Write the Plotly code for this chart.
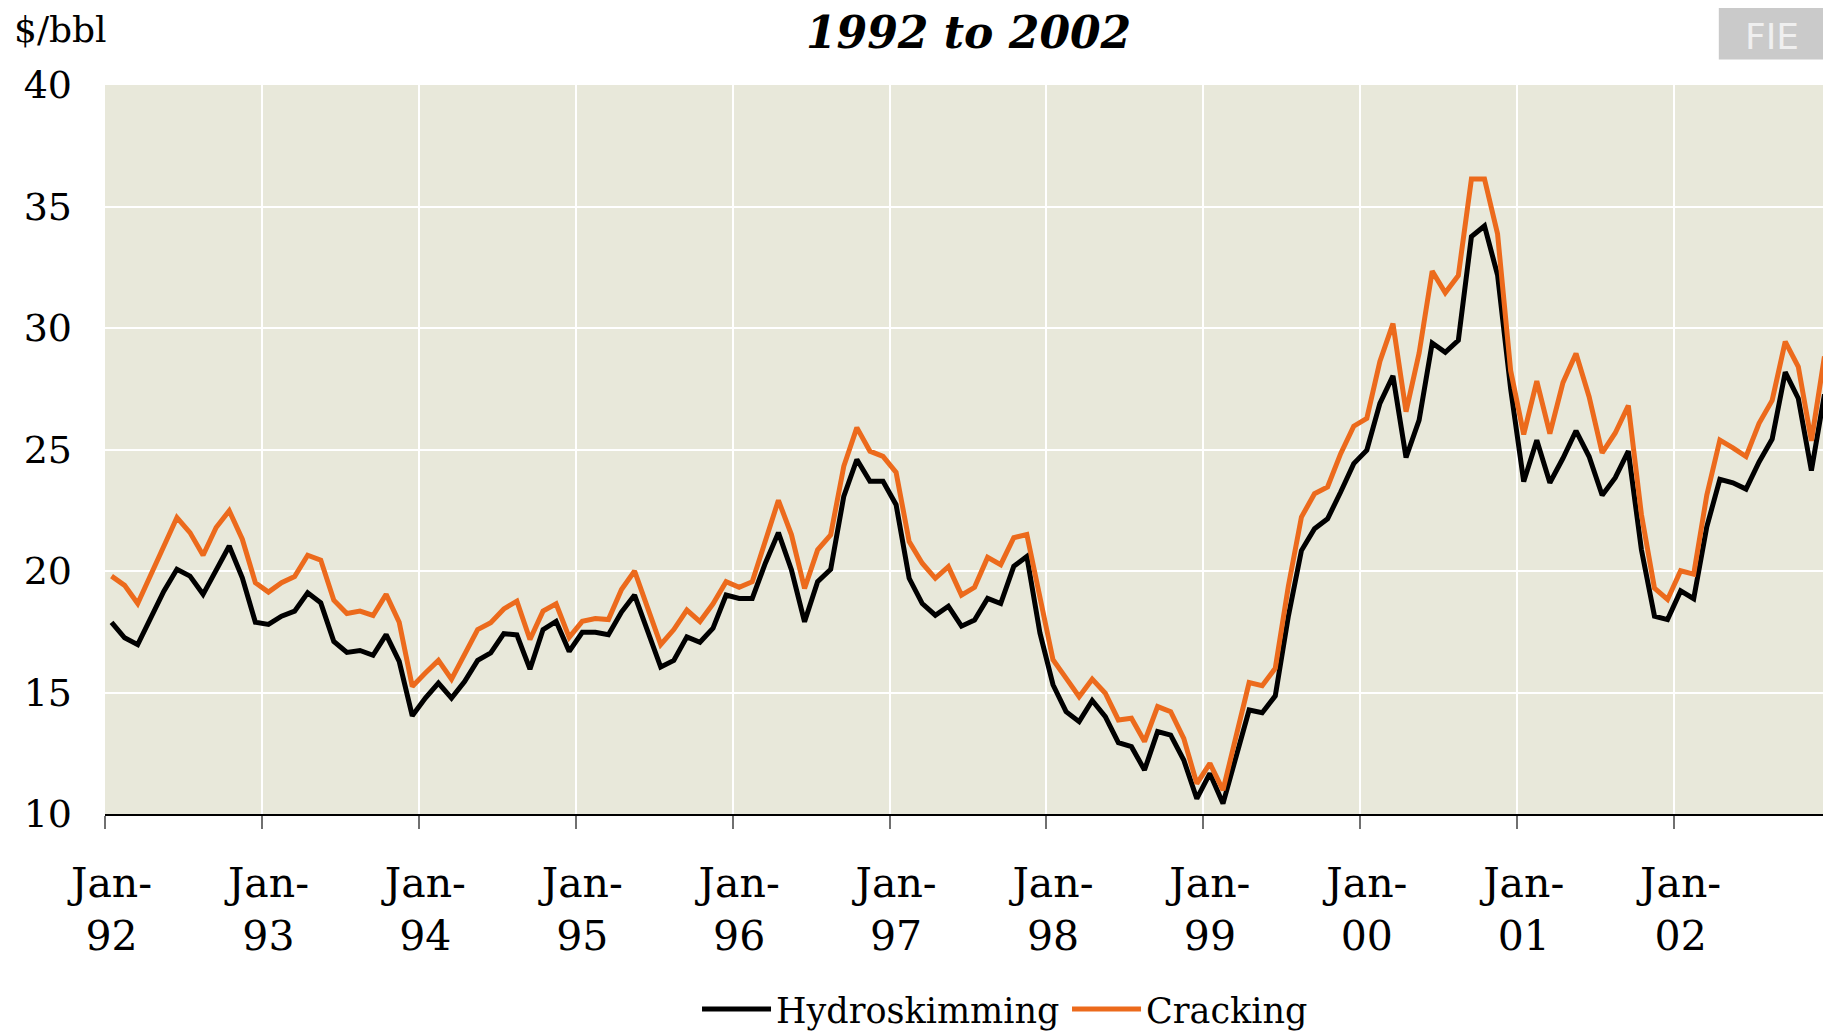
import plotly.graph_objects as go

months = list(range(132))  # Jan-92 .. Dec-02, monthly index

hydroskimming = [
    17.89, 17.25, 16.97, 18.07, 19.17, 20.07, 19.79, 19.04, 20.07, 21.03, 19.72, 17.89,
    17.80, 18.14, 18.35, 19.10, 18.69, 17.10, 16.65, 16.73, 16.53, 17.38, 16.28, 14.04,
    14.77, 15.39, 14.77, 15.45, 16.32, 16.63, 17.42, 17.37, 15.96, 17.59, 17.93, 16.69,
    17.48, 17.48, 17.38, 18.31, 19.01, 17.52, 16.05, 16.32, 17.29, 17.07, 17.65, 19.01,
    18.87, 18.87, 20.32, 21.58, 20.04, 17.91, 19.56, 20.07, 23.07, 24.59, 23.69, 23.69,
    22.73, 19.70, 18.66, 18.18, 18.55, 17.73, 17.98, 18.87, 18.66, 20.19, 20.60, 17.45,
    15.32, 14.21, 13.80, 14.67, 14.01, 12.94, 12.77, 11.81, 13.39, 13.25, 12.22, 10.63,
    11.67, 10.43, 12.29, 14.28, 14.17, 14.86, 18.14, 20.84, 21.74, 22.15, 23.25, 24.42,
    24.97, 26.90, 28.03, 24.67, 26.21, 29.38, 29.00, 29.49, 33.76, 34.20, 32.18, 27.50,
    23.68, 25.38, 23.63, 24.64, 25.77, 24.71, 23.12, 23.84, 24.93, 20.88, 18.14, 18.00,
    19.18, 18.86, 21.82, 23.77, 23.63, 23.37, 24.49, 25.43, 28.18, 27.10, 24.13, 27.27,
]

cracking = [
    19.79, 19.41, 18.66, 19.83, 21.00, 22.20, 21.58, 20.65, 21.79, 22.48, 21.31, 19.52,
    19.13, 19.52, 19.77, 20.65, 20.45, 18.80, 18.25, 18.35, 18.17, 19.04, 17.89, 15.25,
    15.80, 16.32, 15.55, 16.56, 17.59, 17.87, 18.44, 18.76, 17.18, 18.35, 18.65, 17.27,
    17.93, 18.04, 18.00, 19.24, 20.00, 18.48, 16.97, 17.59, 18.39, 17.92, 18.65, 19.56,
    19.33, 19.56, 21.21, 22.91, 21.49, 19.28, 20.87, 21.49, 24.31, 25.90, 24.93, 24.72,
    24.06, 21.21, 20.32, 19.70, 20.18, 19.01, 19.33, 20.56, 20.26, 21.37, 21.50, 18.83,
    16.35, 15.59, 14.83, 15.55, 14.97, 13.87, 13.94, 12.98, 14.42, 14.21, 13.11, 11.25,
    12.08, 10.98, 13.18, 15.41, 15.28, 16.00, 19.38, 22.22, 23.18, 23.46, 24.83, 25.96,
    26.28, 28.62, 30.18, 26.56, 28.97, 32.34, 31.45, 32.16, 36.13, 36.13, 33.87, 28.25,
    25.62, 27.81, 25.65, 27.75, 28.95, 27.17, 24.86, 25.68, 26.81, 22.33, 19.29, 18.83,
    20.01, 19.87, 23.12, 25.39, 25.07, 24.71, 26.08, 27.02, 29.44, 28.40, 25.36, 28.83,
]

year_labels = ["92", "93", "94", "95", "96", "97", "98", "99", "00", "01", "02"]
label_positions = [12 * k for k in range(len(year_labels))]
boundary_positions = [12 * k - 0.5 for k in range(len(year_labels) + 1)]
y_ticks = [10, 15, 20, 25, 30, 35, 40]

FONT = "DejaVu Serif"
BLACK = "#000000"
ORANGE = "#EC6A1C"
BG = "#E8E8DA"

fig = go.Figure()
fig.add_trace(go.Scatter(x=months, y=hydroskimming, mode="lines", name="Hydroskimming",
                         line=dict(color=BLACK, width=5)))
fig.add_trace(go.Scatter(x=months, y=cracking, mode="lines", name="Cracking",
                         line=dict(color=ORANGE, width=5)))
# carrier trace for the label axis
fig.add_trace(go.Scatter(x=[0], y=[None], xaxis="x2", mode="lines", showlegend=False,
                         hoverinfo="skip"))

xr = [-0.5, 131.5]
fig.update_layout(
    width=1823, height=1024,
    margin=dict(l=97, r=0, t=77, b=218, autoexpand=False),
    paper_bgcolor="white",
    plot_bgcolor=BG,
    font=dict(family=FONT, color="black", size=35),
    showlegend=True,
    legend=dict(orientation="h", x=0.343, xanchor="left", y=-0.268, yanchor="middle",
                font=dict(family=FONT, size=35), bgcolor="rgba(0,0,0,0)",
                itemwidth=69, tracegroupgap=0, entrywidth=286, entrywidthmode="pixels"),
    xaxis=dict(range=xr, tickmode="array", tickvals=boundary_positions,
               showticklabels=False, ticks="outside", ticklen=13, tickwidth=1.5,
               tickcolor="#707070", showgrid=True, gridcolor="white", gridwidth=1.5,
               showline=True, linecolor="black", linewidth=2, zeroline=False,
               fixedrange=True),
    xaxis2=dict(range=xr, overlaying="x", side="bottom", tickmode="array",
                tickvals=label_positions,
                ticktext=["Jan-<br>" + y for y in year_labels],
                ticks="", showgrid=False, showline=False, zeroline=False,
                tickfont=dict(family=FONT, size=41), ticklabelstandoff=41,
                fixedrange=True),
    yaxis=dict(range=[10, 40], tickmode="array", tickvals=y_ticks,
               ticks="", showgrid=True, gridcolor="white", gridwidth=1.5,
               showline=False, zeroline=False,
               tickfont=dict(family=FONT, size=38), ticklabelstandoff=32,
               fixedrange=True),
    annotations=[
        dict(text="<b><i>1992 to 2002</i></b>", xref="paper", yref="paper",
             x=0.5, y=1.072, xanchor="center", yanchor="middle", showarrow=False,
             font=dict(family=FONT, size=44, color="black")),
        dict(text="$/bbl", xref="paper", yref="paper", x=-0.054, y=1.076,
             xanchor="left", yanchor="middle", showarrow=False,
             font=dict(family=FONT, size=36, color="black")),
        dict(text="FIE", xref="paper", yref="paper", x=0.966, y=1.066,
             xanchor="center", yanchor="middle", showarrow=False,
             font=dict(family="DejaVu Sans", size=36, color="#EFEFEF")),
    ],
    shapes=[
        dict(type="rect", xref="paper", yref="paper", x0=0.935, x1=1.0,
             y0=1.035, y1=1.106, fillcolor="#CACACA", line=dict(width=0), layer="below"),
    ],
)

fig.write_html("out.html")
